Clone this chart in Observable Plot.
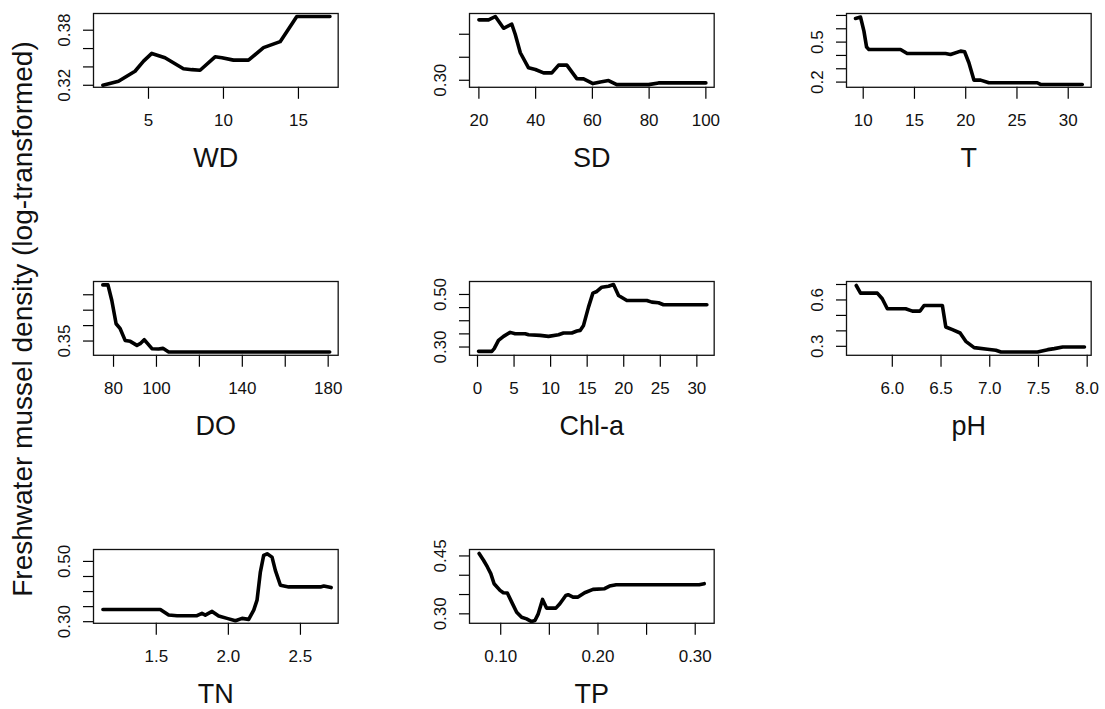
<!DOCTYPE html>
<html><head><meta charset="utf-8">
<script src="https://cdn.jsdelivr.net/npm/d3@7"></script>
<script src="https://cdn.jsdelivr.net/npm/@observablehq/plot@0.6"></script>
<style>
html,body{margin:0;padding:0;background:#fff;}
#chart{position:relative;width:1105px;height:709px;overflow:hidden;font-family:"Liberation Sans",Arial,sans-serif;}
</style></head><body><div id="chart"></div>
<script>
// ---- data ----
const yTitle = "Freshwater mussel density (log-transformed)";
const panelNames = ["WD","SD","T","DO","Chl-a","pH","TN","TP"];

const wdX = [1.96,3.0,4.1,4.67,5.22,6.1,7.33,7.9,8.44,9.44,9.9,10.67,11.67,12.67,13.78,14.33,14.89,17.1];
const wdY = [0.320,0.3243,0.3353,0.3463,0.3547,0.350,0.338,0.337,0.3364,0.351,0.350,0.3474,0.3474,0.361,0.3675,0.381,0.395,0.395];

const sdX = [20,23.4,25.8,28.7,31.6,32.8,34.6,37.5,39.9,42.8,45.7,48.1,51.0,54.5,56.9,60.2,62.8,65.7,68.6,74.5,79.8,83.3,100];
const sdY = [0.4313,0.4313,0.4386,0.413,0.4218,0.400,0.3598,0.327,0.3233,0.316,0.316,0.3328,0.3328,0.3036,0.3029,0.2927,0.2964,0.2993,0.2905,0.2905,0.2905,0.2942,0.2942];

const tX = [9.25,9.74,10.07,10.33,10.55,13.64,14.29,18.03,18.52,19.5,19.89,20.31,20.8,21.45,22.26,26.98,27.3,31.37];
const tY = [0.6775,0.6875,0.5825,0.4625,0.445,0.445,0.415,0.415,0.4075,0.4325,0.4275,0.345,0.215,0.215,0.195,0.195,0.1825,0.1825];

const doX = [75.0,77.4,79.2,81.2,83.1,85.4,87.8,90.9,92.4,94.3,95.9,97.9,101.0,103.0,105.7,180.7];
const doY = [0.532,0.532,0.4815,0.406,0.390,0.352,0.349,0.336,0.3414,0.3543,0.3414,0.3252,0.3241,0.3263,0.3144,0.3144];

const chlX = [0.14,1.96,2.28,2.87,3.56,4.47,5.15,6.52,6.98,8.57,9.71,11.08,11.76,12.9,13.6,14.04,14.5,15.18,15.78,16.32,17.0,17.92,18.6,19.29,20.43,23.16,23.85,24.76,25.44,31.37];
const chlY = [0.2835,0.2835,0.2937,0.3253,0.3405,0.3557,0.3506,0.3506,0.3468,0.3443,0.3405,0.3468,0.3532,0.3532,0.3608,0.3633,0.3823,0.4519,0.5051,0.5114,0.5278,0.5316,0.538,0.4962,0.4772,0.4772,0.4709,0.4684,0.4608,0.4608];

const phX = [5.63,5.674,5.846,5.897,5.949,6.137,6.206,6.285,6.326,6.514,6.549,6.617,6.696,6.754,6.84,6.977,7.063,7.115,7.49,7.595,7.663,7.749,7.972];
const phY = [0.6935,0.644,0.644,0.6075,0.543,0.543,0.528,0.528,0.5645,0.5645,0.4247,0.4075,0.386,0.3323,0.2914,0.2806,0.2742,0.2634,0.2634,0.2785,0.285,0.2957,0.2957];

const tnX = [1.13,1.528,1.586,1.644,1.782,1.817,1.84,1.887,1.933,1.991,2.049,2.095,2.141,2.176,2.199,2.222,2.245,2.269,2.303,2.326,2.361,2.419,2.639,2.662,2.713];
const tnY = [0.3407,0.3407,0.322,0.3198,0.3198,0.3275,0.322,0.3341,0.3187,0.311,0.3033,0.311,0.3077,0.3385,0.3714,0.4648,0.5198,0.5253,0.5143,0.4703,0.4209,0.4154,0.4154,0.4187,0.4132];

const tpX = [0.0778,0.0823,0.0863,0.0898,0.0932,0.0993,0.1027,0.1068,0.1113,0.1164,0.1215,0.1266,0.1317,0.1352,0.1386,0.143,0.1471,0.1567,0.1608,0.1669,0.1693,0.1744,0.1795,0.1863,0.1949,0.2068,0.2119,0.2188,0.3041,0.3092];
const tpY = [0.4563,0.4389,0.4215,0.4042,0.3781,0.3608,0.3547,0.3538,0.3304,0.3043,0.2913,0.287,0.280,0.2826,0.300,0.3373,0.3148,0.3148,0.326,0.3477,0.3495,0.3434,0.3434,0.3547,0.3634,0.3651,0.372,0.3755,0.3755,0.3781];

// tick values and which of them carry a label
const wdXTicks = [5,10,15], wdXLab = [5,10,15];
const wdYTicks = [0.32,0.34,0.36,0.38], wdYLab = [0.32,0.38];
const sdXTicks = [20,40,60,80,100], sdXLab = [20,40,60,80,100];
const sdYTicks = [0.30,0.35,0.40], sdYLab = [0.30];
const tXTicks = [10,15,20,25,30], tXLab = [10,15,20,25,30];
const tYTicks = [0.2,0.3,0.4,0.5,0.6,0.7], tYLab = [0.2,0.5];
const doXTicks = [80,100,120,140,160,180], doXLab = [80,100,140,180];
const doYTicks = [0.35,0.40,0.45,0.50], doYLab = [0.35];
const chlXTicks = [0,5,10,15,20,25,30], chlXLab = [0,5,10,15,20,25,30];
const chlYTicks = [0.30,0.35,0.40,0.45,0.50], chlYLab = [0.30,0.50];
const phXTicks = [6.0,6.5,7.0,7.5,8.0], phXLab = [6.0,6.5,7.0,7.5,8.0];
const phYTicks = [0.3,0.4,0.5,0.6,0.7], phYLab = [0.3,0.6];
const tnXTicks = [1.5,2.0,2.5], tnXLab = [1.5,2.0,2.5];
const tnYTicks = [0.30,0.35,0.40,0.45,0.50], tnYLab = [0.30,0.50];
const tpXTicks = [0.10,0.15,0.20,0.25,0.30], tpXLab = [0.10,0.20,0.30];
const tpYTicks = [0.30,0.35,0.40,0.45], tpYLab = [0.30,0.45];

// ---- layout ----
const f0 = d => String(d), f1 = d => d.toFixed(1), f2 = d => d.toFixed(2);
const panels = [
  {X: wdX, Y: wdY, xd: [1.333,17.65], yd: [0.3178,0.3982], xt: wdXTicks, xl: wdXLab, xf: f0, yt: wdYTicks, yl: wdYLab, yf: f2},
  {X: sdX, Y: sdY, xd: [16.69,102.93], yd: [0.2847,0.4451], xt: sdXTicks, xl: sdXLab, xf: f0, yt: sdYTicks, yl: sdYLab, yf: f2},
  {X: tX, Y: tY, xd: [8.37,32.24], yd: [0.161,0.7146], xt: tXTicks, xl: tXLab, xf: f0, yt: tYTicks, yl: tYLab, yf: f1},
  {X: doX, Y: doY, xd: [70.67,184.66], yd: [0.3038,0.543], xt: doXTicks, xl: doXLab, xf: f0, yt: doYTicks, yl: doYLab, yf: f2},
  {X: chlX, Y: chlY, xd: [-1.094,32.37], yd: [0.2685,0.5494], xt: chlXTicks, xl: chlXLab, xf: f0, yt: chlYTicks, yl: chlYLab, yf: f2},
  {X: phX, Y: phY, xd: [5.530,8.041], yd: [0.2419,0.7194], xt: phXTicks, xl: phXLab, xf: f1, yt: phYTicks, yl: phYLab, yf: f1},
  {X: tnX, Y: tnY, xd: [1.0646,2.7618], yd: [0.2947,0.5396], xt: tnXTicks, xl: tnXLab, xf: f1, yt: tnYTicks, yl: tnYLab, yf: f2},
  {X: tpX, Y: tpY, xd: [0.0679,0.3195], yd: [0.2755,0.4667], xt: tpXTicks, xl: tpXLab, xf: f2, yt: tpYTicks, yl: tpYLab, yf: f2}
];
const colLeft = [93.3, 469.3, 846], rowTop = [12.7, 281, 549];
const FW = 244.7, FH = 73.8;
const mL = 60, mR = 15, mT = 10, mB = 88;
const font = "'Liberation Sans', Arial, sans-serif";
const chart = document.getElementById("chart");

panels.forEach((p, i) => {
  const col = i % 3, row = Math.floor(i / 3);
  const data = p.X.map((x, k) => ({x, y: p.Y[k]}));
  const svg = Plot.plot({
    width: FW + mL + mR, height: FH + mT + mB,
    marginLeft: mL, marginRight: mR, marginTop: mT, marginBottom: mB,
    x: {domain: p.xd}, y: {domain: p.yd},
    style: {fontFamily: font, fontSize: "17px", color: "#000", background: "transparent", overflow: "visible"},
    marks: [
      Plot.axisX({ticks: p.xt, tickSize: 12, tickPadding: 15, tickFormat: d => p.xl.includes(d) ? p.xf(d) : "", label: null, fontSize: 17, strokeWidth: 1.2, fill: "#111"}),
      Plot.axisY({ticks: p.yt, tickSize: 10, tickFormat: () => "", label: null, strokeWidth: 1.2}),
      Plot.text(p.yl, {frameAnchor: "left", y: d => d, text: p.yf, rotate: -90, dx: -23.5, textAnchor: "middle", lineAnchor: "bottom", fontSize: 17, fill: "#111"}),
      Plot.line(data, {x: "x", y: "y", stroke: "#000", strokeWidth: 3.6, strokeLinejoin: "round", strokeLinecap: "round"}),
      Plot.frame({stroke: "#111", strokeWidth: 1.3}),
      Plot.text([panelNames[i]], {frameAnchor: "bottom", text: d => d, dy: 79.5, fontSize: 27, lineAnchor: "bottom", fill: "#111"})
    ]
  });
  svg.style.position = "absolute";
  svg.style.left = (colLeft[col] - mL) + "px";
  svg.style.top = (rowTop[row] - mT) + "px";
  chart.appendChild(svg);
});

// shared y-axis title
const t = d3.select(chart).append("svg")
  .style("position", "absolute").style("left", "0px").style("top", "0px")
  .attr("width", 50).attr("height", 709);
t.append("text")
  .attr("transform", "translate(32,319) rotate(-90)")
  .attr("text-anchor", "middle")
  .attr("font-family", font).attr("font-size", 28).attr("fill", "#111")
  .text(yTitle);
</script></body></html>
